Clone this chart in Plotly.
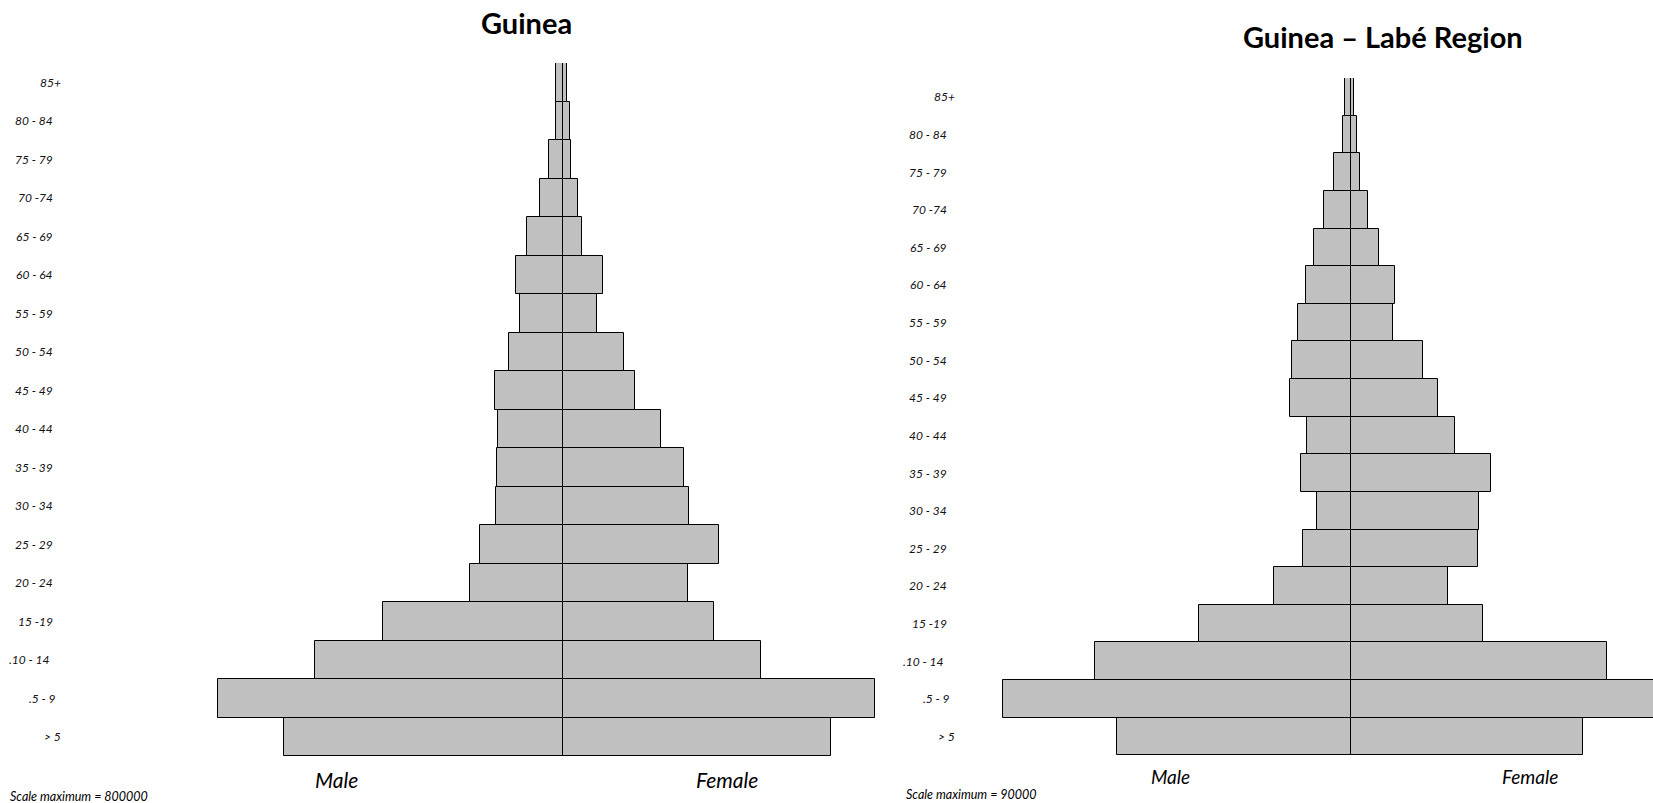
import plotly.graph_objects as go

# ---------------- data ----------------
ages = ["> 5", ".5 - 9", ".10 - 14", "15 -19", "20 - 24", "25 - 29", "30 - 34",
        "35 - 39", "40 - 44", "45 - 49", "50 - 54", "55 - 59", "60 - 64",
        "65 - 69", "70 -74", "75 - 79", "80 - 84", "85+"]

guinea_male = [634000, 784000, 562000, 409000, 210000, 187000, 151000, 149000,
               147000, 153000, 122000, 97000, 107000, 80000, 52000, 32000, 16000, 14000]
guinea_female = [610000, 711000, 451000, 345000, 284000, 356000, 288000, 276000,
                 223000, 164000, 139000, 78000, 92000, 45000, 36000, 18000, 16000, 11000]

labe_male = [59950, 89210, 65780, 38940, 19800, 12320, 8690, 12870, 11220,
             15620, 15290, 13530, 11660, 9570, 7040, 4290, 2090, 1540]
labe_female = [59510, 88000, 65670, 33880, 24860, 32560, 32780, 35860, 26620,
               22220, 18480, 10780, 11330, 7150, 4180, 2310, 1430, 770]

titles = ["Guinea", "Guinea \u2013 Lab\u00e9 Region"]
scale_notes = ["Scale maximum = 800000", "Scale maximum = 90000"]

# ---------------- layout helpers ----------------
W, H = 1653, 803
FILL = "#c0c0c0"
FONT = "Lato"

def px_x(p):
    return p / W

def px_y(p):
    return 1 - p / H

fig = go.Figure()

panels = [
    dict(male=guinea_male, female=guinea_female, xa="x", ya="y",
         center=562.6, dom=(200, 925), upp=2273.0, top=63, bottom=756),
    dict(male=labe_male, female=labe_female, xa="x2", ya="y2",
         center=1351.2, dom=(980, 1653), upp=256.3, top=78, bottom=755.3),
]

for p in panels:
    fig.add_trace(go.Bar(y=ages, x=[-v for v in p["male"]], orientation="h",
                         marker=dict(color=FILL, line=dict(color="black", width=1)),
                         xaxis=p["xa"], yaxis=p["ya"], showlegend=False,
                         hoverinfo="skip"))
    fig.add_trace(go.Bar(y=ages, x=p["female"], orientation="h",
                         marker=dict(color=FILL, line=dict(color="black", width=1)),
                         xaxis=p["xa"], yaxis=p["ya"], showlegend=False,
                         hoverinfo="skip"))

axis_common = dict(showgrid=False, zeroline=False, showline=False,
                   showticklabels=False, ticks="", fixedrange=True)

for i, p in enumerate(panels):
    suffix = "" if i == 0 else "2"
    d0, d1 = p["dom"]
    xr = [-(p["center"] - d0) * p["upp"], (d1 - p["center"]) * p["upp"]]
    fig.layout["xaxis" + suffix] = dict(domain=[px_x(d0), px_x(d1)], range=xr,
                                        anchor="y" + suffix, **axis_common)
    fig.layout["yaxis" + suffix] = dict(domain=[px_y(p["bottom"]), px_y(p["top"])],
                                        range=[-0.5, len(ages) - 0.5],
                                        type="category", categoryorder="array",
                                        categoryarray=ages,
                                        anchor="x" + suffix, **axis_common)

annotations = []
# titles
annotations.append(dict(text="<b>" + titles[0] + "</b>", x=px_x(526), y=px_y(22),
                        xref="paper", yref="paper", showarrow=False,
                        font=dict(family=FONT, size=29, color="black"),
                        xanchor="center", yanchor="middle"))
annotations.append(dict(text="<b>" + titles[1] + "</b>", x=px_x(1383), y=px_y(37),
                        xref="paper", yref="paper", showarrow=False,
                        font=dict(family=FONT, size=29, color="black"),
                        xanchor="center", yanchor="middle"))

# age labels
label_shift = {"85+": 8, "> 5": 8, ".5 - 9": 3, ".10 - 14": -3}
label_right = [55, 949]
for i, p in enumerate(panels):
    yref = "y" if i == 0 else "y2"
    for a in ages:
        annotations.append(dict(text="<i>" + a + "</i>",
                                x=px_x(label_right[i] + label_shift.get(a, 0)),
                                y=a, xref="paper", yref=yref, showarrow=False,
                                xanchor="right", yanchor="middle",
                                font=dict(family=FONT, size=12, color="#111")))

# Male / Female labels
for txt, x, y, s in [("Male", 336, 779, 21), ("Female", 727, 779, 21),
                     ("Male", 1170, 776, 19), ("Female", 1530, 776, 19)]:
    annotations.append(dict(text="<i>" + txt + "</i>", x=px_x(x), y=px_y(y),
                            xref="paper", yref="paper", showarrow=False,
                            xanchor="center", yanchor="middle",
                            font=dict(family=FONT, size=s, color="black")))

# scale notes
for txt, x, y in [(scale_notes[0], 8, 796), (scale_notes[1], 904, 794)]:
    annotations.append(dict(text="<i>" + txt + "</i>", x=px_x(x), y=px_y(y),
                            xref="paper", yref="paper", showarrow=False,
                            xanchor="left", yanchor="middle",
                            font=dict(family=FONT, size=12.5, color="black")))

fig.update_layout(width=W, height=H, margin=dict(l=0, r=0, t=0, b=0),
                  paper_bgcolor="white", plot_bgcolor="white",
                  barmode="relative", bargap=0, annotations=annotations,
                  font=dict(family=FONT))

fig.write_html("out.html", config={"displayModeBar": False},
               post_script="document.body.style.margin='0';document.body.style.overflow='hidden';")
